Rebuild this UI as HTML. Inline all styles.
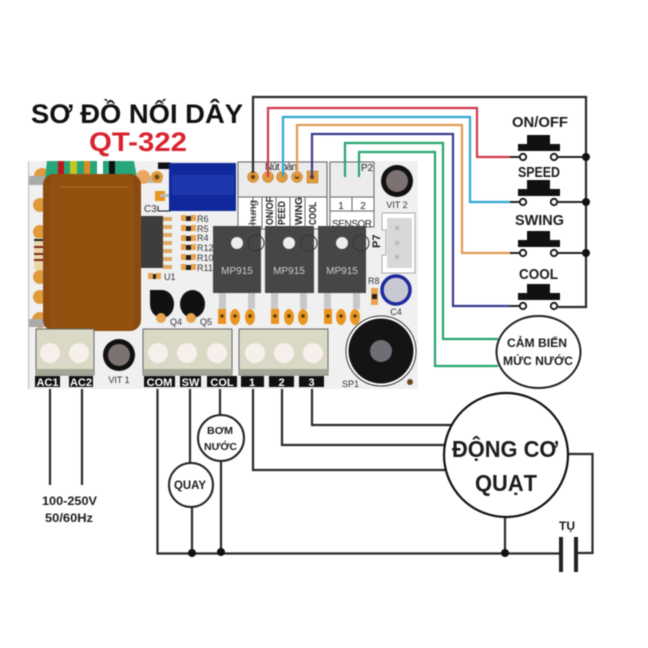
<!DOCTYPE html>
<html><head><meta charset="utf-8"><style>
html,body{margin:0;padding:0;background:#fff}
svg{display:block;filter:blur(0.4px)}
text{font-family:"Liberation Sans",sans-serif}
.l{font-weight:bold;fill:#1c1c1c}
.s{font-size:9px;fill:#333}
.w{fill:none;stroke-width:2.2;stroke-linejoin:miter}
.k{fill:none;stroke:#2b2b2b;stroke-width:2.2}
.lb{fill:#fff;font-weight:bold;font-size:11px;text-anchor:middle}
</style></head><body>
<svg width="648" height="648" viewBox="0 0 648 648" xmlns="http://www.w3.org/2000/svg">
<rect width="648" height="648" fill="#fff"/>
<text x="31" y="123" font-size="27" font-weight="bold" fill="#111" textLength="212" lengthAdjust="spacingAndGlyphs">SƠ ĐỒ NỐI DÂY</text>
<text x="89" y="151" font-size="27" font-weight="bold" fill="#d9232e" textLength="98" lengthAdjust="spacingAndGlyphs">QT-322</text>

<!-- board -->
<rect x="28" y="161" width="390" height="228" fill="#f0f0f0"/>
<line x1="28.500" y1="161" x2="28.500" y2="389" stroke="#bbb"/>
<g fill="#e09a3c"><circle cx="40" cy="205" r="7"/><circle cx="40" cy="232" r="7"/><circle cx="40" cy="277" r="7"/><circle cx="40" cy="297" r="7"/><circle cx="40" cy="320" r="8"/><circle cx="42" cy="176" r="8"/></g>
<rect x="34" y="238" width="10" height="32" fill="#e8d8a8"/>
<g fill="#7a2a20"><rect x="34" y="246" width="10" height="2"/><rect x="34" y="253" width="10" height="2"/><rect x="34" y="259" width="10" height="2"/></g>
<rect x="34" y="239" width="10" height="2" fill="#223"/>
<rect x="29" y="176" width="16" height="9" fill="#aaa"/>
<rect x="29" y="319" width="16" height="8" fill="#aaa"/>
<!-- transformer top -->
<path d="M45 178 L47 161 H134 L137 178Z" fill="#27a67c"/>
<rect x="58" y="161" width="6" height="17" fill="#c3161c"/>
<rect x="70" y="161" width="7" height="17" fill="#c4c422"/>
<rect x="84" y="161" width="6" height="17" fill="#e28a1e"/>
<rect x="97" y="161" width="6" height="17" fill="#fff"/>
<rect x="109" y="161" width="6" height="17" fill="#111"/>
<rect x="132" y="176" width="30" height="7" fill="#bbb"/>
<circle cx="143" cy="177" r="7" fill="#e8a860"/>
<circle cx="157" cy="177" r="6" fill="#e09a3c"/><circle cx="157" cy="177" r="2.500" fill="#6b4a1e"/>
<rect x="155" y="191" width="10" height="10" fill="#e9951f"/>
<rect x="160" y="194" width="10" height="3" fill="#bbb"/>
<rect x="43" y="174" width="98" height="157" rx="11" fill="#8a4a10"/>
<rect x="50" y="174" width="84" height="157" rx="8" fill="#94500f"/>
<line x1="60" y1="187" x2="128" y2="187" stroke="#a9651f" stroke-width="1.500"/>
<!-- capacitor -->
<path d="M158 163H170V211H158V206" fill="none" stroke="#111" stroke-width="1"/>
<rect x="158" y="163" width="12" height="6" fill="#111"/>
<rect x="169" y="163" width="67" height="48" fill="#10289a"/>
<rect x="172" y="175" width="62" height="20" fill="#1c38ac"/>
<text x="144" y="212" font-size="10" fill="#333">C3</text>
<!-- IC -->
<rect x="141" y="216" width="22" height="52" fill="#3d3d3d"/>
<g fill="#e0a868"><rect x="163" y="217" width="9" height="4"/><rect x="163" y="225" width="9" height="4"/><rect x="163" y="233" width="9" height="4"/><rect x="163" y="241" width="9" height="4"/><rect x="163" y="249" width="9" height="4"/><rect x="163" y="257" width="9" height="4"/><rect x="163" y="265" width="9" height="4"/></g>
<g fill="#e9a34e">
<rect x="181" y="215" width="5" height="6"/><rect x="191" y="215" width="5" height="6"/>
<rect x="181" y="225" width="5" height="6"/><rect x="191" y="225" width="5" height="6"/>
<rect x="181" y="235" width="5" height="6"/><rect x="191" y="235" width="5" height="6"/>
<rect x="181" y="244" width="5" height="6"/><rect x="191" y="244" width="5" height="6"/>
<rect x="181" y="254" width="5" height="6"/><rect x="191" y="254" width="5" height="6"/>
<rect x="181" y="264" width="5" height="6"/><rect x="191" y="264" width="5" height="6"/>
<rect x="148" y="273" width="5" height="6"/><rect x="156" y="273" width="5" height="6"/>
</g>
<g fill="#222"><rect x="186" y="216" width="5" height="5"/><rect x="186" y="226" width="5" height="5"/><rect x="186" y="236" width="5" height="5"/><rect x="186" y="245" width="5" height="5"/><rect x="186" y="255" width="5" height="5"/><rect x="186" y="265" width="5" height="5"/><rect x="153" y="274" width="3" height="5"/></g>
<text x="197" y="222" class="s">R6</text><text x="197" y="232" class="s">R5</text><text x="197" y="241" class="s">R4</text><text x="197" y="251" class="s">R12</text><text x="197" y="261" class="s">R10</text><text x="197" y="271" class="s">R11</text><text x="164" y="280" class="s">U1</text>
<!-- Q -->
<path d="M150 290H162A12 14 0 0 1 174 304A12 14 0 0 1 150 304Z" fill="#111"/>
<path d="M180 304A12.500 14 0 0 1 205 304A12.500 14 0 0 1 180 304Z" fill="#111"/>
<rect x="150" y="290" width="12" height="15" fill="#111"/>
<circle cx="161" cy="318" r="5" fill="#e9a34e"/><circle cx="191" cy="318" r="5" fill="#e9a34e"/>
<text x="170" y="325" class="s">Q4</text><text x="200" y="325" class="s">Q5</text>
<!-- header boxes -->
<rect x="238" y="162" width="89" height="35" fill="#ececec" stroke="#666" stroke-width="1"/>
<rect x="238" y="197" width="89" height="32" fill="#fff" stroke="#666" stroke-width="1"/>
<g stroke="#666"><line x1="253" y1="197" x2="253" y2="229"/><line x1="262" y1="197" x2="262" y2="229"/><line x1="276" y1="197" x2="276" y2="229"/><line x1="290" y1="197" x2="290" y2="229"/><line x1="305" y1="197" x2="305" y2="229"/></g>
<text x="265" y="170" font-size="10" fill="#222" textLength="32">Nút bàn</text>
<g font-size="10.500" fill="#222">
<text transform="translate(256,225) rotate(-90)" textLength="25" lengthAdjust="spacingAndGlyphs">hung</text>
<text transform="translate(273,225) rotate(-90)" font-weight="bold" textLength="28" lengthAdjust="spacingAndGlyphs">ON/OF</text>
<text transform="translate(285,225) rotate(-90)" font-weight="bold" textLength="24" lengthAdjust="spacingAndGlyphs">PEED</text>
<text transform="translate(302,225) rotate(-90)" font-weight="bold" textLength="28" lengthAdjust="spacingAndGlyphs">WING</text>
<text transform="translate(316,225) rotate(-90)" font-weight="bold" textLength="23" lengthAdjust="spacingAndGlyphs">COOL</text>
</g>
<g fill="#e09a3c" stroke="#b87820" stroke-width="0.500"><circle cx="253" cy="177" r="5.500"/><circle cx="268" cy="177" r="5.500"/><circle cx="282" cy="177" r="5.500"/><circle cx="297" cy="177" r="5.500"/><rect x="307" y="171" width="11" height="12"/><circle cx="345" cy="177" r="5.500"/><rect x="354" y="171" width="11" height="12"/></g>
<g fill="#5a3a18"><circle cx="253" cy="177" r="2"/><circle cx="297" cy="177" r="2"/><circle cx="312" cy="177" r="2"/></g>
<rect x="330" y="162" width="44" height="35" fill="#ececec" stroke="#666" stroke-width="1"/>
<rect x="330" y="197" width="44" height="14" fill="#fff" stroke="#666" stroke-width="1"/>
<rect x="330" y="211" width="44" height="16" fill="#fff" stroke="#666" stroke-width="1"/>
<line x1="352" y1="197" x2="352" y2="211" stroke="#666"/>
<text x="341" y="209" font-size="10" text-anchor="middle" fill="#222">1</text><text x="363" y="209" font-size="10" text-anchor="middle" fill="#222">2</text>
<text x="332" y="227" font-size="10" fill="#222" textLength="40">SENSOR</text>
<text x="361" y="171" font-size="10" fill="#222">P2</text>
<!-- VIT 2 -->
<circle cx="397" cy="181" r="16" fill="#111"/><circle cx="397" cy="181" r="11" fill="#7c7272"/>
<text x="397" y="208" class="s" text-anchor="middle">VIT 2</text>
<!-- P7 -->
<path d="M382 213H415V273H382V255H386V230H382Z" fill="#fff" stroke="#aaa"/>
<rect x="387" y="218" width="25" height="50" fill="#d8d8d8"/>
<g fill="#bbb"><rect x="395" y="226" width="4" height="4"/><rect x="395" y="241" width="4" height="4"/><rect x="395" y="255" width="4" height="4"/></g>
<text transform="translate(380,248) rotate(-90)" font-size="11" font-weight="bold" fill="#222">P7</text>
<!-- MOSFETs -->
<g>
<rect x="213" y="226" width="48" height="67" fill="#464646"/>
<circle cx="256" cy="243" r="8" fill="none" stroke="#333"/>
<rect x="219" y="293" width="7" height="16" fill="#c8c8c8"/><rect x="248" y="293" width="7" height="16" fill="#c8c8c8"/>
<ellipse cx="237" cy="243" rx="6" ry="6" fill="#eee"/>
<text x="237" y="274" font-size="10" text-anchor="middle" fill="#ccc">MP915</text>
</g>
<g>
<rect x="265" y="226" width="49" height="67" fill="#464646"/>
<circle cx="309" cy="243" r="8" fill="none" stroke="#333"/>
<rect x="271" y="293" width="7" height="16" fill="#c8c8c8"/><rect x="300" y="293" width="7" height="16" fill="#c8c8c8"/>
<ellipse cx="289" cy="243" rx="6" ry="6" fill="#eee"/>
<text x="289" y="274" font-size="10" text-anchor="middle" fill="#ccc">MP915</text>
</g>
<g>
<rect x="318" y="226" width="48" height="67" fill="#464646"/>
<circle cx="361" cy="243" r="8" fill="none" stroke="#333"/>
<rect x="324" y="293" width="7" height="16" fill="#c8c8c8"/><rect x="353" y="293" width="7" height="16" fill="#c8c8c8"/>
<ellipse cx="342" cy="243" rx="6" ry="6" fill="#eee"/>
<text x="342" y="274" font-size="10" text-anchor="middle" fill="#ccc">MP915</text>
</g>
<!-- pads under mosfets -->
<g fill="#e9951f"><rect x="218" y="309" width="8" height="15"/><ellipse cx="235" cy="317" rx="5" ry="8"/><ellipse cx="250" cy="317" rx="5" ry="8"/><rect x="271" y="309" width="8" height="15"/><ellipse cx="289" cy="317" rx="5" ry="8"/><ellipse cx="303" cy="317" rx="5" ry="8"/><rect x="324" y="309" width="8" height="15"/><ellipse cx="341" cy="317" rx="5" ry="8"/><ellipse cx="355" cy="317" rx="5" ry="8"/></g>
<g fill="#5a3a18"><circle cx="235" cy="316" r="1.800"/><circle cx="250" cy="316" r="1.800"/><circle cx="275" cy="316" r="1.800"/><circle cx="289" cy="316" r="1.800"/><circle cx="303" cy="316" r="1.800"/><circle cx="328" cy="316" r="1.800"/><circle cx="341" cy="316" r="1.800"/><circle cx="355" cy="316" r="1.800"/><circle cx="222" cy="316" r="1.800"/></g>
<!-- R8, C4 -->
<text x="368" y="284" class="s">R8</text>
<rect x="371" y="288" width="7" height="17" fill="#e9a34e"/><rect x="372" y="294" width="5" height="5" fill="#222"/>
<circle cx="396" cy="290" r="14" fill="#c9c9d4" stroke="#1d2a9c" stroke-width="3.500"/>
<text x="396" y="315" class="s" text-anchor="middle">C4</text>
<!-- Terminals -->
<g fill="#d9d9c6" stroke="#666" stroke-width="1">
<rect x="36" y="329" width="58" height="46"/><rect x="143" y="329" width="89" height="46"/><rect x="239" y="329" width="89" height="46"/>
</g>
<g fill="#a5a596"><rect x="36" y="369" width="58" height="6"/><rect x="143" y="369" width="89" height="6"/><rect x="239" y="369" width="89" height="6"/></g>
<g fill="#f6efec"><circle cx="50" cy="353" r="10"/><circle cx="79" cy="353" r="10"/><circle cx="158" cy="353" r="10"/><circle cx="187" cy="353" r="10"/><circle cx="217" cy="353" r="10"/><circle cx="255" cy="353" r="10"/><circle cx="284" cy="353" r="10"/><circle cx="313" cy="353" r="10"/></g>
<!-- VIT1 -->
<circle cx="119" cy="355" r="16" fill="#111"/><circle cx="119" cy="355" r="11" fill="#7c7272"/>
<text x="119" y="383" class="s" text-anchor="middle">VIT 1</text>
<!-- SP1 -->
<circle cx="381" cy="351" r="35" fill="#fff" stroke="#333" stroke-width="1"/>
<circle cx="381" cy="351" r="32.500" fill="#141414"/>
<circle cx="381" cy="351" r="11" fill="#6e6e74"/>
<text x="342" y="387" class="s">SP1</text>
<circle cx="410" cy="382" r="3" fill="#6a4a22"/>
<!-- Labels -->
<g fill="#111"><rect x="35" y="376" width="25" height="11"/><rect x="69" y="376" width="24" height="11"/><rect x="144" y="376" width="31" height="11"/><rect x="180" y="376" width="21" height="11"/><rect x="207" y="376" width="30" height="11"/><rect x="241" y="376" width="23" height="11"/><rect x="269" y="376" width="25" height="11"/><rect x="299" y="376" width="25" height="11"/></g>
<text x="47.500" y="386" class="lb">AC1</text><text x="81" y="386" class="lb">AC2</text><text x="159.500" y="386" class="lb">COM</text><text x="190.500" y="386" class="lb">SW</text><text x="222" y="386" class="lb">COL</text><text x="252" y="386" class="lb">1</text><text x="281.500" y="386" class="lb">2</text><text x="311.500" y="386" class="lb">3</text>

<!-- colored wires -->
<path class="k" d="M253 173V97H586V307H558"/>
<path class="w" stroke="#d03a4a" d="M268 177V108H477V157H510"/>
<path class="w" stroke="#2fa9cf" d="M283 177V117H470V202H510"/>
<path class="w" stroke="#e09a50" d="M297 177V125H462V253H510"/>
<path class="w" stroke="#3a3a8e" d="M312 177V134H453V306H510"/>
<path class="w" stroke="#27a56f" d="M345 177V143H443V339H498"/>
<path class="w" stroke="#27a56f" d="M359 177V152H435V366H498"/>
<g fill="none" stroke="#222" stroke-width="2"><path d="M510 157H520M510 202H520M510 253H520M510 306H520"/><path d="M558 157H586M558 202H586M558 253H586"/></g>
<!-- switches -->
<g fill="#111"><path d="M518 144H527V135H550V144H560V151H518Z"/><path d="M518 189H527V180H550V189H560V196H518Z"/><path d="M518 240H527V231H550V240H560V247H518Z"/><path d="M518 293H527V284H550V293H560V300H518Z"/></g>
<g fill="#fff" stroke="#111" stroke-width="1.800"><circle cx="523" cy="157" r="3.200"/><circle cx="554" cy="157" r="3.200"/><circle cx="523" cy="202" r="3.200"/><circle cx="554" cy="202" r="3.200"/><circle cx="523" cy="253" r="3.200"/><circle cx="554" cy="253" r="3.200"/><circle cx="523" cy="306" r="3.200"/><circle cx="554" cy="306" r="3.200"/></g>
<g fill="#111"><circle cx="586" cy="157" r="4"/><circle cx="586" cy="202" r="4"/><circle cx="586" cy="253" r="4"/></g>
<text x="512" y="127" class="l" font-size="15" textLength="56" lengthAdjust="spacingAndGlyphs">ON/OFF</text>
<text x="518" y="177" class="l" font-size="15" textLength="42" lengthAdjust="spacingAndGlyphs">SPEED</text>
<text x="515" y="225" class="l" font-size="15" textLength="49" lengthAdjust="spacingAndGlyphs">SWING</text>
<text x="519" y="279" class="l" font-size="15" textLength="39" lengthAdjust="spacingAndGlyphs">COOL</text>
<!-- sensor -->
<ellipse cx="538.500" cy="352" rx="42" ry="36" fill="#fff" stroke="#222" stroke-width="2"/>
<text x="507" y="347" class="l" font-size="11.500" textLength="60" lengthAdjust="spacingAndGlyphs">CẢM BIẾN</text>
<text x="503" y="365" class="l" font-size="11.500" textLength="70" lengthAdjust="spacingAndGlyphs">MỨC NƯỚC</text>
<!-- black wires bottom -->
<path class="k" d="M50 389V485M82 389V485M157.500 389V553.500H561M190 389V463M220 389V415M192 508V553M221 461V553M253 389V470H446M282 389V445H446M312 389V425H452M505 518V553M567 454H592.500V553H577"/>
<circle cx="192" cy="553" r="4" fill="#111"/><circle cx="221" cy="552" r="4" fill="#111"/><circle cx="505" cy="553" r="4" fill="#111"/>
<rect x="559" y="537" width="4" height="35" fill="#222"/><rect x="574" y="537" width="4" height="35" fill="#222"/>
<text x="567" y="530" class="l" font-size="12" text-anchor="middle">TỤ</text>
<!-- circles -->
<circle cx="506" cy="455" r="62" fill="#fff" stroke="#111" stroke-width="2.200"/>
<text x="452" y="457" class="l" font-size="23" textLength="106" lengthAdjust="spacingAndGlyphs">ĐỘNG CƠ</text>
<text x="475" y="491" class="l" font-size="23" textLength="62" lengthAdjust="spacingAndGlyphs">QUẠT</text>
<circle cx="191" cy="485" r="22" fill="#fff" stroke="#222" stroke-width="2"/>
<text x="174" y="489" class="l" font-size="12" textLength="32" lengthAdjust="spacingAndGlyphs">QUAY</text>
<circle cx="221" cy="438" r="23" fill="#fff" stroke="#222" stroke-width="2"/>
<text x="207" y="434" class="l" font-size="10.500" textLength="26" lengthAdjust="spacingAndGlyphs">BƠM</text>
<text x="204" y="450" class="l" font-size="10.500" textLength="33" lengthAdjust="spacingAndGlyphs">NƯỚC</text>
<text x="42" y="505" class="l" font-size="11.500" textLength="55" lengthAdjust="spacingAndGlyphs">100-250V</text>
<text x="45" y="522" class="l" font-size="11.500" textLength="48" lengthAdjust="spacingAndGlyphs">50/60Hz</text>
</svg>
</body></html>
